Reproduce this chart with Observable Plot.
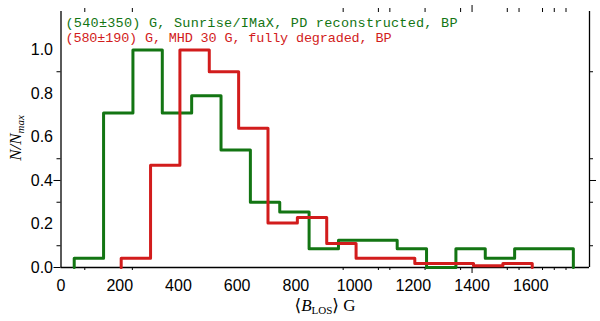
<!DOCTYPE html>
<html>
<head>
<meta charset="utf-8">
<script src="https://cdn.jsdelivr.net/npm/d3@7"></script>
<script src="https://cdn.jsdelivr.net/npm/@observablehq/plot@0.6"></script>
<style>
  html, body { margin: 0; padding: 0; background: white; }
</style>
</head>
<body>
<div id="chart"></div>
<script>
// ---- data ----
const greenEdges = [45, 145, 245, 345, 445, 545, 645, 745, 845, 945, 1045, 1145, 1245, 1345, 1445, 1545, 1645, 1745];
const greenValues = [0.043, 0.71, 1.0, 0.71, 0.79, 0.54, 0.30, 0.255, 0.086, 0.125, 0.125, 0.086, 0.0, 0.086, 0.043, 0.086, 0.086];

const redEdges = [205, 305, 405, 505, 605, 705, 805, 905, 1005, 1105, 1205, 1305, 1405, 1505, 1605];
const redValues = [0.043, 0.47, 1.0, 0.90, 0.64, 0.205, 0.23, 0.11, 0.043, 0.043, 0.018, 0.018, 0.008, 0.018];

const legendLabels = [
  "(540\u00b1350) G, Sunrise/IMaX, PD reconstructed, BP",
  "(580\u00b1190) G, MHD 30 G, fully degraded, BP"
];

const xTickLabels = [0, 200, 400, 600, 800, 1000, 1200, 1400, 1600];
const xMinorTicks = [81, 243, 961, 1081, 1120, 1240, 1361, 1520, 1560, 1640, 1680, 1720];
const xMajorTicks = [1400];
const yTickLabels = [0.0, 0.2, 0.4, 0.6, 0.8, 1.0];
const yMinorTicks = [0.1, 0.3, 0.5, 0.9];
const yMajorTicks = [0.0, 0.4];

const xDomain = [0, 1800];
const yDomain = [0, 1.177];

// ---- styles ----
const GREEN = "#137513";
const RED = "#d21c1c";

function outline(edges, values) {
  const pts = [{x: edges[0], y: 0}];
  values.forEach((v, i) => pts.push({x: edges[i], y: v}));
  pts.push({x: edges[edges.length - 1], y: values[values.length - 1]});
  pts.push({x: edges[edges.length - 1], y: 0});
  return pts;
}
const greenPts = outline(greenEdges, greenValues);
const redPts = outline(redEdges, redValues);

const blank = () => "";

const svg = Plot.plot({
  width: 600,
  height: 321,
  marginLeft: 60.5,
  marginRight: 11,
  marginTop: 11,
  marginBottom: 54,
  style: {fontFamily: "'Liberation Sans', Arial, sans-serif", background: "white", color: "black", overflow: "visible"},
  x: {domain: xDomain, label: null},
  y: {domain: yDomain, label: null},
  marks: [
    // frame (no top edge)
    Plot.ruleX([xDomain[0], xDomain[1]], {y1: yDomain[0], y2: yDomain[1], stroke: "black", strokeWidth: 1.3}),
    Plot.ruleY([0], {stroke: "black", strokeWidth: 1.3}),
    // y ticks left & right
    Plot.axisY(yMinorTicks, {anchor: "left", tickSize: 4, tickFormat: blank, label: null}),
    Plot.axisY(yMajorTicks, {anchor: "left", tickSize: 7, tickFormat: blank, label: null}),
    Plot.axisY(yMinorTicks, {anchor: "right", tickSize: 3, tickFormat: blank, label: null}),
    Plot.axisY([0.4], {anchor: "right", tickSize: 6, tickFormat: blank, label: null}),
    Plot.axisY(yTickLabels, {anchor: "left", tickSize: 0, tickPadding: 8, tickFormat: d3.format(".1f"), fontSize: 16, label: null}),
    // x ticks bottom & top
    Plot.axisX(xMinorTicks, {anchor: "bottom", tickSize: 3, tickFormat: blank, label: null}),
    Plot.axisX(xMajorTicks, {anchor: "bottom", tickSize: 6, tickFormat: blank, label: null}),
    Plot.axisX(xMinorTicks, {anchor: "top", tickSize: 4, tickFormat: blank, label: null}),
    Plot.axisX(xMajorTicks, {anchor: "top", tickSize: 7, tickFormat: blank, label: null}),
    Plot.axisX(xTickLabels, {anchor: "bottom", tickSize: 0, tickPadding: 12, tickFormat: d => String(d), fontSize: 16, label: null}),
    // histograms
    Plot.line(greenPts, {x: "x", y: "y", curve: "step-after", stroke: GREEN, strokeWidth: 3}),
    Plot.line(redPts, {x: "x", y: "y", curve: "step-after", stroke: RED, strokeWidth: 3}),
    // legend texts
    Plot.text([legendLabels[0]], {frameAnchor: "top-left", dx: 4.5, dy: 11, text: d => d, fill: GREEN, fontSize: 13.5,
      fontFamily: "'Liberation Mono', 'Courier New', monospace", textAnchor: "start", lineAnchor: "middle", className: "leg-green"}),
    Plot.text([legendLabels[1]], {frameAnchor: "top-left", dx: 4.5, dy: 26, text: d => d, fill: RED, fontSize: 13.5,
      fontFamily: "'Liberation Mono', 'Courier New', monospace", textAnchor: "start", lineAnchor: "middle", className: "leg-red"})
  ]
});

const s = d3.select(svg);
// stretch the legend lines to the reference's widths
s.selectAll(".leg-green text, text.leg-green").attr("textLength", 392).attr("lengthAdjust", "spacing");
s.selectAll(".leg-red text, text.leg-red").attr("textLength", 326).attr("lengthAdjust", "spacing");

// axis titles with sub-scripts
const xl = s.append("text")
  .attr("x", 325).attr("y", 311)
  .attr("text-anchor", "middle")
  .attr("font-family", "'Liberation Serif', 'DejaVu Serif', serif")
  .attr("font-size", 17)
  .attr("fill", "black");
xl.append("tspan").text("\u27e8");
xl.append("tspan").attr("font-style", "italic").text("B");
xl.append("tspan").attr("font-size", 11).attr("dy", 3).text("LOS");
xl.append("tspan").attr("dy", -3).text("\u27e9 G");

const yl = s.append("text")
  .attr("transform", "translate(21,138) rotate(-90)")
  .attr("text-anchor", "middle")
  .attr("font-family", "'Liberation Serif', 'DejaVu Serif', serif")
  .attr("font-size", 17)
  .attr("font-style", "italic")
  .attr("fill", "black");
yl.append("tspan").text("N/N");
yl.append("tspan").attr("font-size", 11).attr("dy", 3).text("max");

document.getElementById("chart").appendChild(svg);
</script>
</body>
</html>
